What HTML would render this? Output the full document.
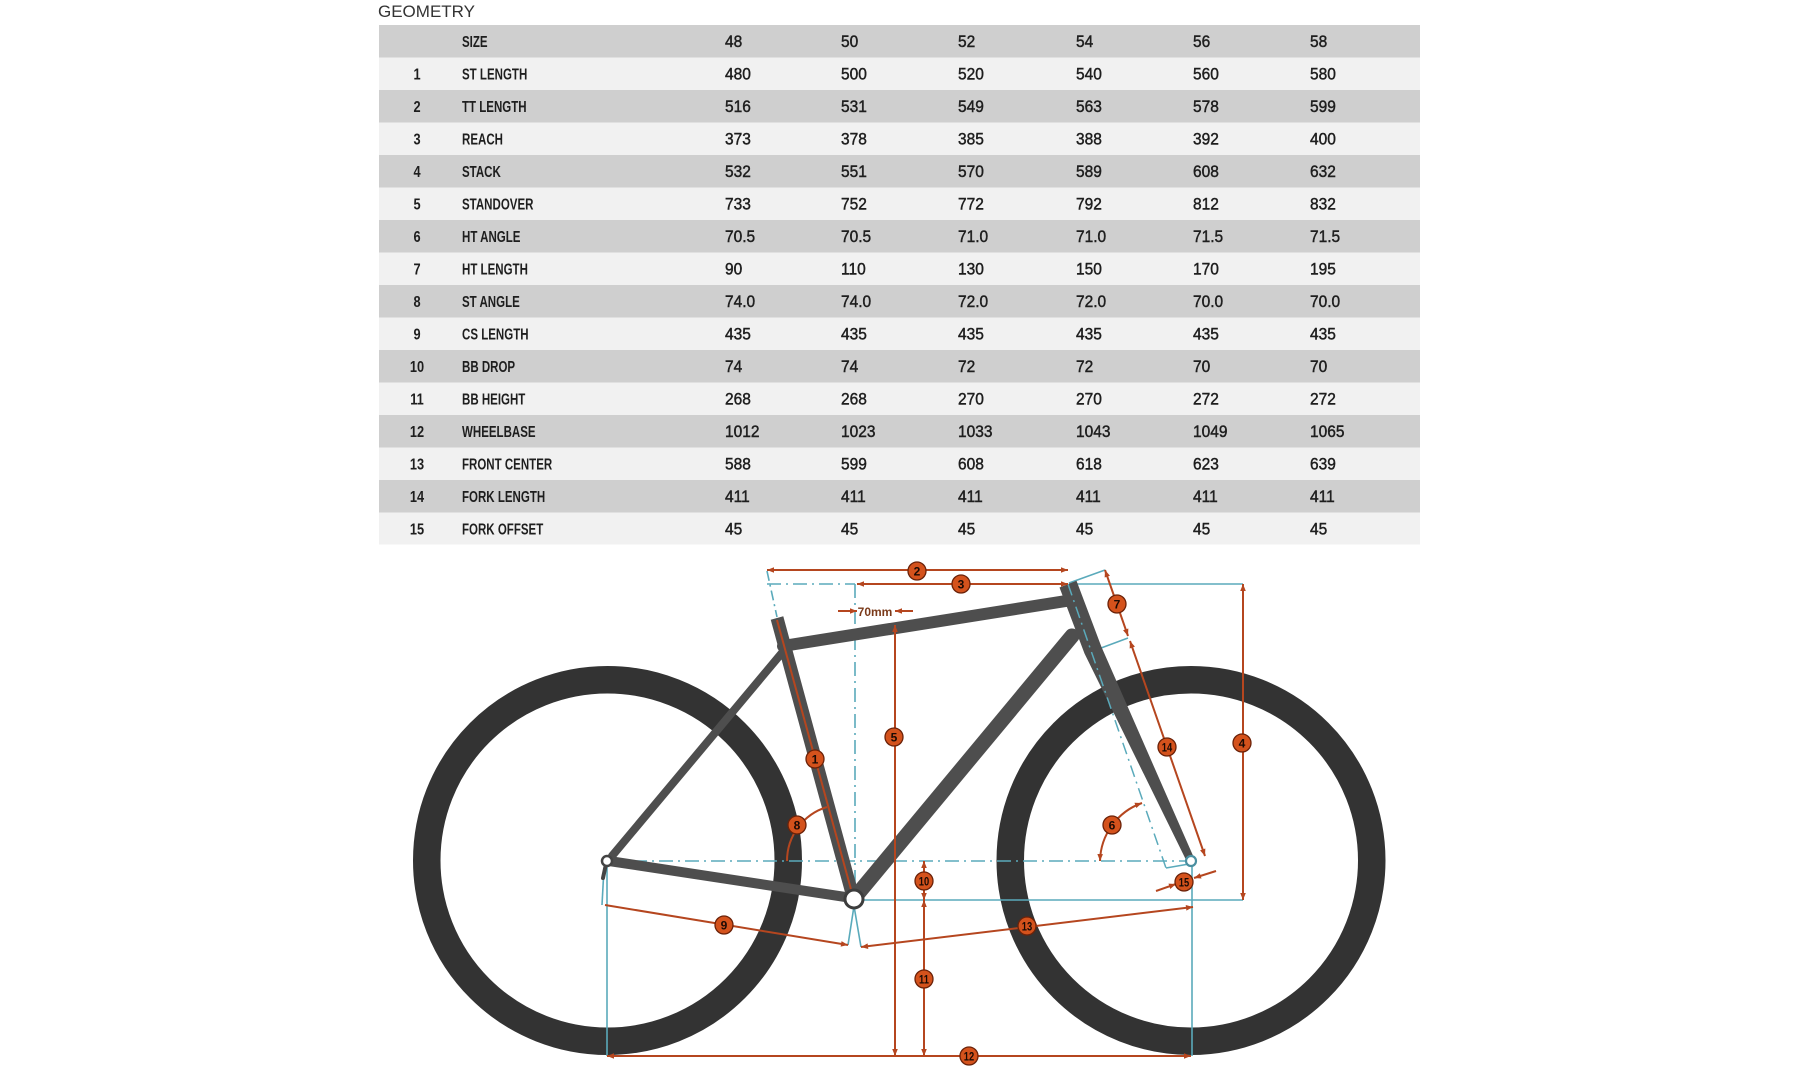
<!DOCTYPE html>
<html><head><meta charset="utf-8"><style>
html,body{margin:0;padding:0;background:#fff;}
svg{display:block;}
text{font-family:"Liberation Sans",sans-serif;}
</style></head><body>
<svg width="1800" height="1081" viewBox="0 0 1800 1081" xmlns="http://www.w3.org/2000/svg">
<defs>
<marker id="a" viewBox="0 0 10 10" refX="10" refY="5" markerWidth="8" markerHeight="7" markerUnits="userSpaceOnUse" orient="auto-start-reverse"><path d="M0,1 L10,5 L0,9 z" fill="#b5461f"/></marker>
</defs>
<rect width="1800" height="1081" fill="#fff"/>
<text x="378" y="17" font-size="17" fill="#333">GEOMETRY</text>
<!-- table rows -->
<g>
<rect x="379" y="25" width="1041" height="33" fill="#cfcfcf"/>
<rect x="379" y="57.5" width="1041" height="33" fill="#f1f1f1"/>
<rect x="379" y="90" width="1041" height="33" fill="#cfcfcf"/>
<rect x="379" y="122.5" width="1041" height="33" fill="#f1f1f1"/>
<rect x="379" y="155" width="1041" height="33" fill="#cfcfcf"/>
<rect x="379" y="187.5" width="1041" height="33" fill="#f1f1f1"/>
<rect x="379" y="220" width="1041" height="33" fill="#cfcfcf"/>
<rect x="379" y="252.5" width="1041" height="33" fill="#f1f1f1"/>
<rect x="379" y="285" width="1041" height="33" fill="#cfcfcf"/>
<rect x="379" y="317.5" width="1041" height="33" fill="#f1f1f1"/>
<rect x="379" y="350" width="1041" height="33" fill="#cfcfcf"/>
<rect x="379" y="382.5" width="1041" height="33" fill="#f1f1f1"/>
<rect x="379" y="415" width="1041" height="33" fill="#cfcfcf"/>
<rect x="379" y="447.5" width="1041" height="33" fill="#f1f1f1"/>
<rect x="379" y="480" width="1041" height="33" fill="#cfcfcf"/>
<rect x="379" y="512.5" width="1041" height="32" fill="#f1f1f1"/>
</g>
<g fill="#1e1e1e">
<g transform="translate(0,46.75)">
<text transform="translate(462,0) scale(0.72,1)" font-size="16" font-weight="bold">SIZE</text>
<g font-size="16.5" stroke="#1e1e1e" stroke-width="0.45"><text transform="translate(725,0) scale(0.94,1)">48</text><text transform="translate(841,0) scale(0.94,1)">50</text><text transform="translate(958,0) scale(0.94,1)">52</text><text transform="translate(1076,0) scale(0.94,1)">54</text><text transform="translate(1193,0) scale(0.94,1)">56</text><text transform="translate(1310,0) scale(0.94,1)">58</text></g>
</g>
<g transform="translate(0,79.25)">
<text transform="translate(417,0) scale(0.8,1)" text-anchor="middle" font-size="16" font-weight="bold">1</text>
<text transform="translate(462,0) scale(0.72,1)" font-size="16" font-weight="bold">ST LENGTH</text>
<g font-size="16.5" stroke="#1e1e1e" stroke-width="0.45"><text transform="translate(725,0) scale(0.94,1)">480</text><text transform="translate(841,0) scale(0.94,1)">500</text><text transform="translate(958,0) scale(0.94,1)">520</text><text transform="translate(1076,0) scale(0.94,1)">540</text><text transform="translate(1193,0) scale(0.94,1)">560</text><text transform="translate(1310,0) scale(0.94,1)">580</text></g>
</g>
<g transform="translate(0,111.75)">
<text transform="translate(417,0) scale(0.8,1)" text-anchor="middle" font-size="16" font-weight="bold">2</text>
<text transform="translate(462,0) scale(0.72,1)" font-size="16" font-weight="bold">TT LENGTH</text>
<g font-size="16.5" stroke="#1e1e1e" stroke-width="0.45"><text transform="translate(725,0) scale(0.94,1)">516</text><text transform="translate(841,0) scale(0.94,1)">531</text><text transform="translate(958,0) scale(0.94,1)">549</text><text transform="translate(1076,0) scale(0.94,1)">563</text><text transform="translate(1193,0) scale(0.94,1)">578</text><text transform="translate(1310,0) scale(0.94,1)">599</text></g>
</g>
<g transform="translate(0,144.25)">
<text transform="translate(417,0) scale(0.8,1)" text-anchor="middle" font-size="16" font-weight="bold">3</text>
<text transform="translate(462,0) scale(0.72,1)" font-size="16" font-weight="bold">REACH</text>
<g font-size="16.5" stroke="#1e1e1e" stroke-width="0.45"><text transform="translate(725,0) scale(0.94,1)">373</text><text transform="translate(841,0) scale(0.94,1)">378</text><text transform="translate(958,0) scale(0.94,1)">385</text><text transform="translate(1076,0) scale(0.94,1)">388</text><text transform="translate(1193,0) scale(0.94,1)">392</text><text transform="translate(1310,0) scale(0.94,1)">400</text></g>
</g>
<g transform="translate(0,176.75)">
<text transform="translate(417,0) scale(0.8,1)" text-anchor="middle" font-size="16" font-weight="bold">4</text>
<text transform="translate(462,0) scale(0.72,1)" font-size="16" font-weight="bold">STACK</text>
<g font-size="16.5" stroke="#1e1e1e" stroke-width="0.45"><text transform="translate(725,0) scale(0.94,1)">532</text><text transform="translate(841,0) scale(0.94,1)">551</text><text transform="translate(958,0) scale(0.94,1)">570</text><text transform="translate(1076,0) scale(0.94,1)">589</text><text transform="translate(1193,0) scale(0.94,1)">608</text><text transform="translate(1310,0) scale(0.94,1)">632</text></g>
</g>
<g transform="translate(0,209.25)">
<text transform="translate(417,0) scale(0.8,1)" text-anchor="middle" font-size="16" font-weight="bold">5</text>
<text transform="translate(462,0) scale(0.72,1)" font-size="16" font-weight="bold">STANDOVER</text>
<g font-size="16.5" stroke="#1e1e1e" stroke-width="0.45"><text transform="translate(725,0) scale(0.94,1)">733</text><text transform="translate(841,0) scale(0.94,1)">752</text><text transform="translate(958,0) scale(0.94,1)">772</text><text transform="translate(1076,0) scale(0.94,1)">792</text><text transform="translate(1193,0) scale(0.94,1)">812</text><text transform="translate(1310,0) scale(0.94,1)">832</text></g>
</g>
<g transform="translate(0,241.75)">
<text transform="translate(417,0) scale(0.8,1)" text-anchor="middle" font-size="16" font-weight="bold">6</text>
<text transform="translate(462,0) scale(0.72,1)" font-size="16" font-weight="bold">HT ANGLE</text>
<g font-size="16.5" stroke="#1e1e1e" stroke-width="0.45"><text transform="translate(725,0) scale(0.94,1)">70.5</text><text transform="translate(841,0) scale(0.94,1)">70.5</text><text transform="translate(958,0) scale(0.94,1)">71.0</text><text transform="translate(1076,0) scale(0.94,1)">71.0</text><text transform="translate(1193,0) scale(0.94,1)">71.5</text><text transform="translate(1310,0) scale(0.94,1)">71.5</text></g>
</g>
<g transform="translate(0,274.25)">
<text transform="translate(417,0) scale(0.8,1)" text-anchor="middle" font-size="16" font-weight="bold">7</text>
<text transform="translate(462,0) scale(0.72,1)" font-size="16" font-weight="bold">HT LENGTH</text>
<g font-size="16.5" stroke="#1e1e1e" stroke-width="0.45"><text transform="translate(725,0) scale(0.94,1)">90</text><text transform="translate(841,0) scale(0.94,1)">110</text><text transform="translate(958,0) scale(0.94,1)">130</text><text transform="translate(1076,0) scale(0.94,1)">150</text><text transform="translate(1193,0) scale(0.94,1)">170</text><text transform="translate(1310,0) scale(0.94,1)">195</text></g>
</g>
<g transform="translate(0,306.75)">
<text transform="translate(417,0) scale(0.8,1)" text-anchor="middle" font-size="16" font-weight="bold">8</text>
<text transform="translate(462,0) scale(0.72,1)" font-size="16" font-weight="bold">ST ANGLE</text>
<g font-size="16.5" stroke="#1e1e1e" stroke-width="0.45"><text transform="translate(725,0) scale(0.94,1)">74.0</text><text transform="translate(841,0) scale(0.94,1)">74.0</text><text transform="translate(958,0) scale(0.94,1)">72.0</text><text transform="translate(1076,0) scale(0.94,1)">72.0</text><text transform="translate(1193,0) scale(0.94,1)">70.0</text><text transform="translate(1310,0) scale(0.94,1)">70.0</text></g>
</g>
<g transform="translate(0,339.25)">
<text transform="translate(417,0) scale(0.8,1)" text-anchor="middle" font-size="16" font-weight="bold">9</text>
<text transform="translate(462,0) scale(0.72,1)" font-size="16" font-weight="bold">CS LENGTH</text>
<g font-size="16.5" stroke="#1e1e1e" stroke-width="0.45"><text transform="translate(725,0) scale(0.94,1)">435</text><text transform="translate(841,0) scale(0.94,1)">435</text><text transform="translate(958,0) scale(0.94,1)">435</text><text transform="translate(1076,0) scale(0.94,1)">435</text><text transform="translate(1193,0) scale(0.94,1)">435</text><text transform="translate(1310,0) scale(0.94,1)">435</text></g>
</g>
<g transform="translate(0,371.75)">
<text transform="translate(417,0) scale(0.8,1)" text-anchor="middle" font-size="16" font-weight="bold">10</text>
<text transform="translate(462,0) scale(0.72,1)" font-size="16" font-weight="bold">BB DROP</text>
<g font-size="16.5" stroke="#1e1e1e" stroke-width="0.45"><text transform="translate(725,0) scale(0.94,1)">74</text><text transform="translate(841,0) scale(0.94,1)">74</text><text transform="translate(958,0) scale(0.94,1)">72</text><text transform="translate(1076,0) scale(0.94,1)">72</text><text transform="translate(1193,0) scale(0.94,1)">70</text><text transform="translate(1310,0) scale(0.94,1)">70</text></g>
</g>
<g transform="translate(0,404.25)">
<text transform="translate(417,0) scale(0.8,1)" text-anchor="middle" font-size="16" font-weight="bold">11</text>
<text transform="translate(462,0) scale(0.72,1)" font-size="16" font-weight="bold">BB HEIGHT</text>
<g font-size="16.5" stroke="#1e1e1e" stroke-width="0.45"><text transform="translate(725,0) scale(0.94,1)">268</text><text transform="translate(841,0) scale(0.94,1)">268</text><text transform="translate(958,0) scale(0.94,1)">270</text><text transform="translate(1076,0) scale(0.94,1)">270</text><text transform="translate(1193,0) scale(0.94,1)">272</text><text transform="translate(1310,0) scale(0.94,1)">272</text></g>
</g>
<g transform="translate(0,436.75)">
<text transform="translate(417,0) scale(0.8,1)" text-anchor="middle" font-size="16" font-weight="bold">12</text>
<text transform="translate(462,0) scale(0.72,1)" font-size="16" font-weight="bold">WHEELBASE</text>
<g font-size="16.5" stroke="#1e1e1e" stroke-width="0.45"><text transform="translate(725,0) scale(0.94,1)">1012</text><text transform="translate(841,0) scale(0.94,1)">1023</text><text transform="translate(958,0) scale(0.94,1)">1033</text><text transform="translate(1076,0) scale(0.94,1)">1043</text><text transform="translate(1193,0) scale(0.94,1)">1049</text><text transform="translate(1310,0) scale(0.94,1)">1065</text></g>
</g>
<g transform="translate(0,469.25)">
<text transform="translate(417,0) scale(0.8,1)" text-anchor="middle" font-size="16" font-weight="bold">13</text>
<text transform="translate(462,0) scale(0.72,1)" font-size="16" font-weight="bold">FRONT CENTER</text>
<g font-size="16.5" stroke="#1e1e1e" stroke-width="0.45"><text transform="translate(725,0) scale(0.94,1)">588</text><text transform="translate(841,0) scale(0.94,1)">599</text><text transform="translate(958,0) scale(0.94,1)">608</text><text transform="translate(1076,0) scale(0.94,1)">618</text><text transform="translate(1193,0) scale(0.94,1)">623</text><text transform="translate(1310,0) scale(0.94,1)">639</text></g>
</g>
<g transform="translate(0,501.75)">
<text transform="translate(417,0) scale(0.8,1)" text-anchor="middle" font-size="16" font-weight="bold">14</text>
<text transform="translate(462,0) scale(0.72,1)" font-size="16" font-weight="bold">FORK LENGTH</text>
<g font-size="16.5" stroke="#1e1e1e" stroke-width="0.45"><text transform="translate(725,0) scale(0.94,1)">411</text><text transform="translate(841,0) scale(0.94,1)">411</text><text transform="translate(958,0) scale(0.94,1)">411</text><text transform="translate(1076,0) scale(0.94,1)">411</text><text transform="translate(1193,0) scale(0.94,1)">411</text><text transform="translate(1310,0) scale(0.94,1)">411</text></g>
</g>
<g transform="translate(0,534.25)">
<text transform="translate(417,0) scale(0.8,1)" text-anchor="middle" font-size="16" font-weight="bold">15</text>
<text transform="translate(462,0) scale(0.72,1)" font-size="16" font-weight="bold">FORK OFFSET</text>
<g font-size="16.5" stroke="#1e1e1e" stroke-width="0.45"><text transform="translate(725,0) scale(0.94,1)">45</text><text transform="translate(841,0) scale(0.94,1)">45</text><text transform="translate(958,0) scale(0.94,1)">45</text><text transform="translate(1076,0) scale(0.94,1)">45</text><text transform="translate(1193,0) scale(0.94,1)">45</text><text transform="translate(1310,0) scale(0.94,1)">45</text></g>
</g>
</g>

<!-- wheels -->
<circle cx="607.5" cy="860.5" r="180.75" fill="none" stroke="#333" stroke-width="27.5"/>
<circle cx="1191" cy="860.5" r="180.75" fill="none" stroke="#333" stroke-width="27.5"/>

<!-- teal reference lines -->
<g stroke="#5aaabb" stroke-width="1.6" fill="none">
<line x1="607" y1="861" x2="1191" y2="861" stroke-dasharray="14 5 2 5"/>
<line x1="855" y1="584" x2="855" y2="899" stroke-dasharray="14 5 2 5"/>
<line x1="767" y1="584" x2="855" y2="584" stroke-dasharray="14 5 2 5"/>
<line x1="767" y1="571" x2="777" y2="617" stroke-dasharray="10 4 2 4"/>
<line x1="1075" y1="584" x2="1243" y2="584"/>
<line x1="862" y1="900" x2="1243" y2="900"/>
<line x1="607" y1="861" x2="607" y2="1056"/>
<line x1="1192" y1="861" x2="1192" y2="1056"/>
<line x1="1069" y1="583" x2="1105" y2="570"/>
<line x1="1093" y1="651" x2="1128" y2="638"/>
<line x1="604" y1="868" x2="602" y2="905"/>
<line x1="854" y1="906" x2="848" y2="945"/>
<line x1="854" y1="906" x2="861" y2="947"/>
</g>

<!-- frame -->
<g stroke="#4e4e4e" fill="none">
<line x1="609" y1="861" x2="852" y2="898" stroke-width="10" stroke-linecap="round"/>
<line x1="612" y1="856" x2="786" y2="648" stroke-width="8" stroke-linecap="round"/>
<line x1="783" y1="646" x2="1066" y2="601" stroke-width="12" stroke-linecap="round"/>
<line x1="856" y1="896" x2="1072" y2="636" stroke-width="15" stroke-linecap="round"/>
<line x1="853" y1="897" x2="777" y2="618" stroke-width="13"/>
</g>
<polygon points="1059.5,587.5 1076.5,580.8 1101.5,647 1194.6,859.3 1187.4,862.7 1084.5,653.5" fill="#4e4e4e"/>
<line x1="777" y1="620" x2="852" y2="893" stroke="#b5461f" stroke-width="2"/>
<g stroke="#5aaabb" stroke-width="1.5" fill="none">
<line x1="1068" y1="584" x2="1166" y2="868" stroke-dasharray="12 5 2 5"/>
<line x1="1166" y1="868" x2="1189" y2="864"/>
</g>
<line x1="606" y1="864" x2="603" y2="878" stroke="#444" stroke-width="4" stroke-linecap="round"/>
<circle cx="607" cy="861" r="5" fill="#fff" stroke="#444" stroke-width="2.5"/>
<circle cx="1191" cy="861" r="5" fill="#fff" stroke="#4a8fa0" stroke-width="2.2"/>
<circle cx="854" cy="899" r="9" fill="#fff" stroke="#3d3d3d" stroke-width="3"/>

<!-- dimension lines -->
<g stroke="#b5461f" stroke-width="2" fill="none">
<line x1="767" y1="570" x2="1068" y2="570" marker-start="url(#a)" marker-end="url(#a)"/>
<line x1="857" y1="584" x2="1068" y2="584" marker-start="url(#a)" marker-end="url(#a)"/>
<line x1="895" y1="625" x2="895" y2="1056" marker-start="url(#a)" marker-end="url(#a)"/>
<line x1="1243" y1="584" x2="1243" y2="900" marker-start="url(#a)" marker-end="url(#a)"/>
<line x1="1105" y1="570" x2="1128" y2="636" marker-start="url(#a)" marker-end="url(#a)"/>
<line x1="1130" y1="641" x2="1205" y2="856" marker-start="url(#a)" marker-end="url(#a)"/>
<line x1="924" y1="861" x2="924" y2="900" marker-start="url(#a)" marker-end="url(#a)"/>
<line x1="924" y1="900" x2="924" y2="1056" marker-start="url(#a)" marker-end="url(#a)"/>
<line x1="607" y1="1056" x2="1191" y2="1056" marker-start="url(#a)" marker-end="url(#a)"/>
<line x1="605" y1="905" x2="848" y2="945" marker-end="url(#a)"/>
<line x1="861" y1="947" x2="1193" y2="907" marker-start="url(#a)" marker-end="url(#a)"/>
<line x1="1156" y1="891" x2="1176" y2="884" marker-end="url(#a)"/>
<line x1="1216" y1="871" x2="1194" y2="878" marker-end="url(#a)"/>
<path d="M1100,861 A63,63 0 0 1 1142,803" marker-start="url(#a)" marker-end="url(#a)"/>
<path d="M787,861 A56.5,56.5 0 0 1 827,807"/>
<line x1="838" y1="611" x2="857" y2="611" marker-end="url(#a)"/>
<line x1="913" y1="611" x2="895" y2="611" marker-end="url(#a)"/>
</g>
<text x="875" y="616" text-anchor="middle" font-size="12" font-weight="bold" fill="#7a3a1a">70mm</text>

<!-- numbered circles -->
<g stroke="#6b2209" stroke-width="1.3" fill="#d4521c">
<circle cx="815" cy="759" r="9"/>
<circle cx="917" cy="571" r="9"/>
<circle cx="961" cy="584" r="9"/>
<circle cx="1242" cy="743" r="9"/>
<circle cx="894" cy="737" r="9"/>
<circle cx="1112" cy="825" r="9"/>
<circle cx="1117" cy="604" r="9"/>
<circle cx="797" cy="825" r="9"/>
<circle cx="724" cy="925" r="9"/>
<circle cx="924" cy="881" r="9"/>
<circle cx="924" cy="979" r="9"/>
<circle cx="969" cy="1056" r="9"/>
<circle cx="1027" cy="926" r="9"/>
<circle cx="1167" cy="747" r="9"/>
<circle cx="1184" cy="882" r="9"/>
</g>
<g fill="#1a0a04" font-size="12" font-weight="bold" text-anchor="middle">
<text x="815" y="763.3">1</text>
<text x="917" y="575.3">2</text>
<text x="961" y="588.3">3</text>
<text x="1242" y="747.3">4</text>
<text x="894" y="741.3">5</text>
<text x="1112" y="829.3">6</text>
<text x="1117" y="608.3">7</text>
<text x="797" y="829.3">8</text>
<text x="724" y="929.3">9</text>
<text transform="translate(924,885.3) scale(0.78,1)">10</text>
<text transform="translate(924,983.3) scale(0.78,1)">11</text>
<text transform="translate(969,1060.3) scale(0.78,1)">12</text>
<text transform="translate(1027,930.3) scale(0.78,1)">13</text>
<text transform="translate(1167,751.3) scale(0.78,1)">14</text>
<text transform="translate(1184,886.3) scale(0.78,1)">15</text>
</g>
</svg>
</body></html>
